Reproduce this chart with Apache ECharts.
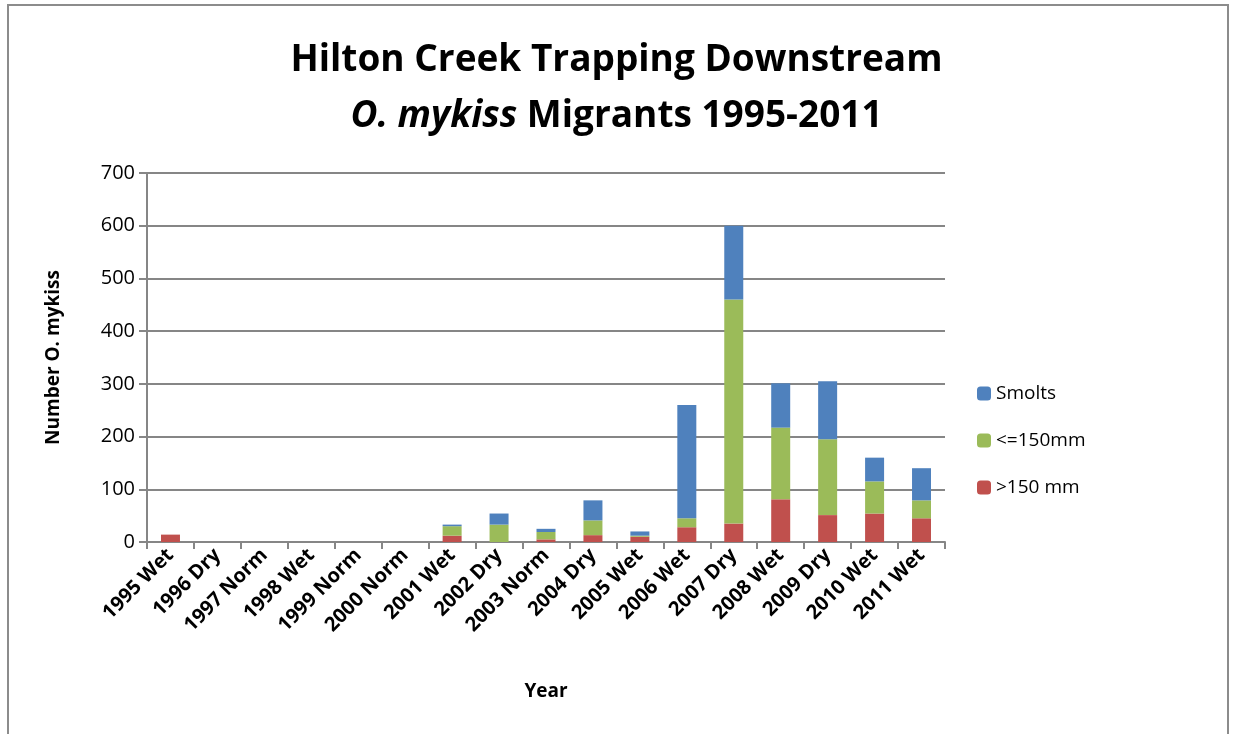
<!DOCTYPE html>
<html><head><meta charset="utf-8">
<script src="https://cdn.jsdelivr.net/npm/echarts@6/dist/echarts.min.js"></script>
<style>html,body{margin:0;padding:0;background:#fff}#c{width:1233px;height:734px}</style>
</head><body><div id="c"></div>
<script>
const categories = ['1995 Wet','1996 Dry','1997 Norm','1998 Wet','1999 Norm','2000 Norm','2001 Wet','2002 Dry','2003 Norm','2004 Dry','2005 Wet','2006 Wet','2007 Dry','2008 Wet','2009 Dry','2010 Wet','2011 Wet'];
const over150 = [14,0,0,0,0,0,12,0,5,13,10,28,35,81,51,54,45];
const under150 = [0,0,0,0,0,0,18,33,14,28,2,17,425,136,144,61,34];
const smolts = [0,0,0,0,0,0,3,21,6,38,8,215,140,84,110,45,61];
const yTicks = [0,100,200,300,400,500,600,700];

const FONT = '"Open Sans", sans-serif';
const chart = echarts.init(document.getElementById('c'));
const mk = (name, data, color) => ({name, type:'bar', stack:'t', data, barWidth:19, itemStyle:{color}});
chart.setOption({
  animation:false,
  textStyle:{fontFamily:FONT},
  title:{
    left:'center', top:27,
    text:'{b|Hilton Creek Trapping Downstream}\n{i|O. mykiss}{b| Migrants 1995-2011}',
    textStyle:{rich:{
      b:{fontFamily:FONT,fontWeight:'bold',fontSize:37,color:'#000',lineHeight:56},
      i:{fontFamily:FONT,fontWeight:'bold',fontStyle:'italic',fontSize:37,color:'#000',lineHeight:56}
    }}
  },
  graphic:[{type:'rect',shape:{x:8,y:5,width:1220,height:760},style:{fill:'none',stroke:'#8c8c8c',lineWidth:2},silent:true}],
  legend:{
    orient:'vertical', left:972, top:379, itemGap:28, itemWidth:14, itemHeight:14,
    data:['Smolts','<=150mm','>150 mm'],
    textStyle:{fontFamily:FONT,fontSize:19,color:'#000'}
  },
  grid:{left:147,right:288,top:173,bottom:192},
  xAxis:{
    type:'category', data:categories,
    name:'Year', nameLocation:'middle', nameGap:140,
    nameTextStyle:{fontFamily:FONT,fontWeight:'bold',fontSize:19,color:'#000'},
    axisLine:{lineStyle:{color:'#868686',width:2}},
    axisTick:{show:true,length:7,lineStyle:{color:'#868686',width:2}},
    axisLabel:{rotate:45,interval:0,fontFamily:FONT,fontWeight:'bold',fontSize:20,color:'#000',margin:10}
  },
  yAxis:{
    type:'value', min:0, max:700, interval:100,
    name:'Number O. mykiss', nameLocation:'middle', nameGap:84,
    nameTextStyle:{fontFamily:FONT,fontWeight:'bold',fontSize:19,color:'#000'},
    axisLine:{show:true,lineStyle:{color:'#868686',width:2}},
    axisTick:{show:true,length:8,lineStyle:{color:'#868686',width:2}},
    splitLine:{lineStyle:{color:'#868686',width:2}},
    axisLabel:{fontFamily:FONT,fontSize:20,color:'#000',margin:12,formatter:v=>yTicks.includes(v)?String(v):''}
  },
  series:[
    mk('>150 mm', over150, '#C0504D'),
    mk('<=150mm', under150, '#9BBB59'),
    mk('Smolts', smolts, '#4F81BD')
  ]
});
</script></body></html>
